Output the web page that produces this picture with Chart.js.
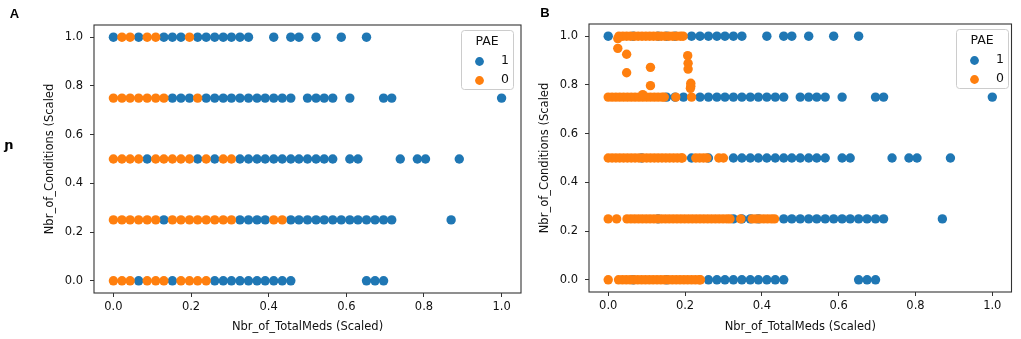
<!DOCTYPE html>
<html>
<head>
<meta charset="utf-8">
<script src="https://cdn.jsdelivr.net/npm/chart.js@4"></script>
<style>
body { margin: 0; background: #fff; width: 1021px; height: 339px; overflow: hidden; position: relative; }
canvas { position: absolute; top: 0; }
#chartA { left: 0; }
#chartB { left: 530px; }
</style>
</head>
<body>
<canvas id="chartA" width="530" height="339"></canvas>
<canvas id="chartB" width="491" height="339"></canvas>
<script>
/*---------------------------- data ------------------------------------*/
// y levels of the rows (Nbr_of_Conditions scaled)
var rowLevels = [1.0, 0.75, 0.5, 0.25, 0.0];

// PAE = 1, x values per row (same points in A and B)
var blueRows = [
  [0, 0.065, 0.130, 0.152, 0.174, 0.217, 0.239, 0.261, 0.283, 0.304, 0.326, 0.348, 0.413, 0.457, 0.478, 0.522, 0.587, 0.652],
  [0.152, 0.174, 0.196, 0.239, 0.261, 0.283, 0.304, 0.326, 0.348, 0.370, 0.391, 0.413, 0.435, 0.457, 0.500, 0.522, 0.543, 0.565, 0.609, 0.696, 0.717, 1.0],
  [0.087, 0.217, 0.261, 0.326, 0.348, 0.370, 0.391, 0.413, 0.435, 0.457, 0.478, 0.500, 0.522, 0.543, 0.565, 0.609, 0.630, 0.739, 0.783, 0.804, 0.891],
  [0.130, 0.326, 0.348, 0.370, 0.391, 0.457, 0.478, 0.500, 0.522, 0.543, 0.565, 0.587, 0.609, 0.630, 0.652, 0.674, 0.696, 0.717, 0.870],
  [0.065, 0.152, 0.261, 0.283, 0.304, 0.326, 0.348, 0.370, 0.391, 0.413, 0.435, 0.457, 0.652, 0.674, 0.696]
];

// PAE = 0, panel A (original)
var orangeRowsA = [
  [0.022, 0.043, 0.087, 0.109, 0.196],
  [0, 0.022, 0.043, 0.065, 0.087, 0.109, 0.130, 0.217],
  [0, 0.022, 0.043, 0.065, 0.109, 0.130, 0.152, 0.174, 0.196, 0.239, 0.283, 0.304],
  [0, 0.022, 0.043, 0.065, 0.087, 0.109, 0.152, 0.174, 0.196, 0.217, 0.239, 0.261, 0.283, 0.304, 0.413, 0.435],
  [0, 0.022, 0.043, 0.087, 0.109, 0.130, 0.174, 0.196, 0.217, 0.239]
];

// PAE = 0, panel B (oversampled, dense bands)
var orangeRowsB = [
  [0.028, 0.038, 0.048, 0.058, 0.068, 0.078, 0.088, 0.098, 0.108, 0.118, 0.128, 0.138, 0.148, 0.158, 0.168, 0.178, 0.188, 0.195],
  [0, 0.01, 0.02, 0.03, 0.04, 0.05, 0.06, 0.07, 0.08, 0.09, 0.10, 0.11, 0.12, 0.13, 0.14, 0.146, 0.176, 0.217],
  [0, 0.01, 0.02, 0.03, 0.04, 0.05, 0.06, 0.07, 0.08, 0.09, 0.10, 0.11, 0.12, 0.13, 0.14, 0.15, 0.16, 0.17, 0.18, 0.19, 0.193, 0.228, 0.238, 0.248, 0.257, 0.288, 0.300],
  [0, 0.022, 0.049, 0.059, 0.069, 0.079, 0.089, 0.099, 0.109, 0.119, 0.129, 0.139, 0.149, 0.159, 0.169, 0.179, 0.189, 0.199, 0.209, 0.219, 0.229, 0.239, 0.249, 0.259, 0.269, 0.279, 0.289, 0.299, 0.309, 0.317, 0.345, 0.375, 0.385, 0.395, 0.405, 0.415, 0.425, 0.433],
  [0, 0.027, 0.037, 0.047, 0.057, 0.067, 0.077, 0.087, 0.097, 0.107, 0.117, 0.127, 0.137, 0.147, 0.157, 0.167, 0.177, 0.187, 0.197, 0.207, 0.217, 0.227, 0.237, 0.240]
];

// synthetic PAE = 0 points between rows in B
var midX = [0.025, 0.025, 0.048, 0.048, 0.110, 0.110, 0.207, 0.208, 0.208, 0.215, 0.215, 0.214, 0.090];
var midY = [0.990, 0.950, 0.926, 0.850, 0.872, 0.797, 0.920, 0.889, 0.865, 0.807, 0.795, 0.786, 0.760];

var xTicks = [0, 0.2, 0.4, 0.6, 0.8, 1.0];
var yTicks = [0, 0.2, 0.4, 0.6, 0.8, 1.0];

var FONT = '"DejaVu Sans", sans-serif';
var BLUE = '#1f77b4';
var ORANGE = '#ff7f0e';
var DOT = 4.7;

function rowsToPoints(rows) {
  var pts = [];
  rows.forEach(function (xs, i) {
    xs.forEach(function (x) { pts.push({ x: x, y: rowLevels[i] }); });
  });
  return pts;
}

/*---------------------------- panels ------------------------------------*/
function makePanel(id, orangeRows, extraX, extraY, p) {
  var orangePts = rowsToPoints(orangeRows);
  extraX.forEach(function (x, i) { orangePts.push({ x: x, y: extraY[i] }); });

  var decor = {
    id: 'decor',
    afterDraw: function (c) {
      var ctx = c.ctx, a = c.chartArea;
      ctx.save();
      // full frame
      ctx.strokeStyle = '#333';
      ctx.lineWidth = 1.1;
      ctx.strokeRect(a.left, a.top, a.right - a.left, a.bottom - a.top);
      // legend
      var b = p.legend;
      ctx.beginPath();
      ctx.roundRect(b.x + 0.5, b.y + 0.5, b.w, b.h, 3);
      ctx.fillStyle = 'rgba(255,255,255,0.8)';
      ctx.fill();
      ctx.strokeStyle = '#cccccc';
      ctx.lineWidth = 1;
      ctx.stroke();
      ctx.fillStyle = '#111';
      ctx.font = '12.5px ' + FONT;
      ctx.textBaseline = 'middle';
      ctx.textAlign = 'center';
      ctx.fillText('PAE', b.x + b.w / 2, b.y + 12);
      ctx.textAlign = 'left';
      ctx.fillText('1', b.x + 40, b.y + 31);
      ctx.fillText('0', b.x + 40, b.y + 50);
      ctx.fillStyle = BLUE;
      ctx.beginPath(); ctx.arc(b.x + 18.5, b.y + 31.5, 4.4, 0, Math.PI * 2); ctx.fill();
      ctx.fillStyle = ORANGE;
      ctx.beginPath(); ctx.arc(b.x + 18.5, b.y + 50.5, 4.4, 0, Math.PI * 2); ctx.fill();
      // panel letter
      ctx.fillStyle = '#000';
      ctx.font = 'bold 13px "Liberation Sans", Arial, sans-serif';
      ctx.textAlign = 'center';
      ctx.fillText(p.letter, p.letterX, p.letterY);
      if (p.glyph) {
        ctx.font = 'bold 13px ' + FONT;
        ctx.fillText(p.glyph, p.glyphX, p.glyphY);
      }
      ctx.restore();
    }
  };

  return new Chart(id, {
    type: 'scatter',
    data: {
      datasets: [
        { label: '1', data: rowsToPoints(blueRows), backgroundColor: BLUE, pointRadius: DOT, borderWidth: 0, order: 2 },
        { label: '0', data: orangePts, backgroundColor: ORANGE, pointRadius: DOT, borderWidth: 0, order: 1 }
      ]
    },
    options: {
      responsive: false,
      animation: false,
      layout: { padding: { left: p.padL, top: p.padT, right: p.padR, bottom: 0 } },
      plugins: { legend: { display: false }, tooltip: { enabled: false } },
      scales: {
        x: {
          type: 'linear', min: -0.05, max: 1.05,
          afterBuildTicks: function (s) { s.ticks = xTicks.map(function (v) { return { value: v }; }); },
          afterFit: function (s) { s.height = p.xH; },
          grid: { drawOnChartArea: false, tickLength: 4, color: '#333' },
          border: { display: false },
          ticks: { font: { family: FONT, size: 11.5 }, color: '#111', padding: 3, maxRotation: 0,
                   callback: function (v) { return v.toFixed(1); } },
          title: { display: true, text: 'Nbr_of_TotalMeds (Scaled)', color: '#111',
                   font: { family: FONT, size: 11.5 }, padding: { top: 4, bottom: 5 } }
        },
        y: {
          type: 'linear', min: -0.05, max: 1.05,
          afterBuildTicks: function (s) { s.ticks = yTicks.map(function (v) { return { value: v }; }); },
          afterFit: function (s) { s.width = p.yW; },
          grid: { drawOnChartArea: false, tickLength: 4, color: '#333' },
          border: { display: false },
          ticks: { font: { family: FONT, size: 11.5 }, color: '#111', padding: 7,
                   callback: function (v) { return v.toFixed(1); } },
          title: { display: true, text: 'Nbr_of_Conditions (Scaled', color: '#111',
                   font: { family: FONT, size: 11.5 }, padding: { top: 4, bottom: 4 } }
        }
      }
    },
    plugins: [decor]
  });
}

makePanel('chartA', orangeRowsA, [], [], {
  padL: 39, yW: 55, padT: 25, padR: 9, xH: 46,
  legend: { x: 461, y: 30, w: 52, h: 59 },
  letter: 'A', letterX: 14.5, letterY: 14,
  glyph: '\u0272', glyphX: 9, glyphY: 146
});

makePanel('chartB', orangeRowsB, midX, midY, {
  padL: 4, yW: 55, padT: 24, padR: 9.5, xH: 47,
  legend: { x: 426, y: 29, w: 52, h: 59 },
  letter: 'B', letterX: 15, letterY: 13.5
});
</script>
</body>
</html>
